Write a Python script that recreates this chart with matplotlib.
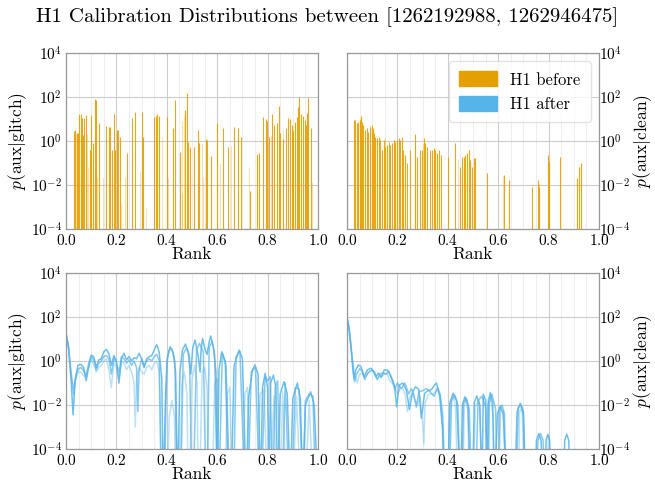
import numpy as np
import matplotlib
matplotlib.use("Agg")
import matplotlib.pyplot as plt
from matplotlib.patches import Patch
from matplotlib.ticker import FixedLocator, MultipleLocator, NullLocator

plt.rcParams['font.family'] = 'serif'
plt.rcParams['font.serif'] = ['cmr10']
plt.rcParams['mathtext.fontset'] = 'cm'
plt.rcParams['axes.formatter.use_mathtext'] = True

BEFORE = '#E69F00'
AFTER = '#56B4E9'

title = 'H1 Calibration Distributions between [1262192988, 1262946475]'

# top row: spike positions (rank) and log10 heights
glitch_before_x = [.032, .036, .042, .046, .053, .058, .062, .066, .071, .079, .095, .099, .108,
                   .114, .118, .130, .159, .171, .175, .181, .190, .194, .201, .208, .214, .243,
                   .263, .274, .302, .307, .351, .356, .360, .370, .399, .426, .433, .452, .474,
                   .479, .485, .492, .509, .522, .529, .554, .558, .574, .601, .624, .642, .667,
                   .684, .693, .730, .757, .767, .783, .792, .799, .806, .817, .827, .836, .844,
                   .849, .862, .872, .882, .888, .896, .902, .909, .915, .922, .926, .931, .942,
                   .948, .952, .958, .962, .971]
glitch_before_h = [.47, .50, .35, .35, 1.23, 1.23, 1.03, .27, 1.03, 1.18, -.41, 1.18, -.11,
                   1.89, 1.86, .80, .68, .62, .62, -.41, 1.23, -.41, .50, .50, .20, -.56,
                   1.03, 1.33, 1.33, .20, 1.11, 1.15, 1.23, 1.14, 1.11, .58, 1.86, -.48, 1.41,
                   2.17, -.03, -.26, -.26, .50, -.11, .08, .05, -.68, .80, .58, -.26, .65,
                   .58, .20, -2.26, -.61, -.53, 1.08, .98, .92, .20, 1.23, .73, .80, 1.59,
                   .35, .08, .58, 1.03, .98, .73, .50, .88, 1.11, 1.56, 2.02, 1.23, 1.14,
                   .95, .73, 1.26, 1.94, .58]
glitch_before_light_x = [.040, .060, .085, .089, .100, .124, .148, .218, .235, .294, .316, .380,
                         .403, .460, .462, .468, .538, .545, .611, .655, .728, .812, .860, .900,
                         .940, .955, .976]
glitch_before_light_h = [.3, .6, .3, -1.17, .5, -1.62, -1.70, -2.83, -1.62, -1.39, -3.06, .2,
                         -1.70, .9, -2.38, 1.18, -.11, -1.62, -1.02, -.23, -1.17, .23, .5, .4,
                         .3, 1.26, -1.85]

clean_before_x = [.001, .028, .032, .039, .045, .052, .056, .061, .065, .072, .078, .085, .092,
                  .098, .102, .108, .112, .118, .125, .131, .138, .145, .151, .158, .165, .171,
                  .178, .185, .191, .198, .205, .211, .218, .224, .231, .240, .251, .271, .278,
                  .291, .297, .304, .311, .317, .331, .337, .344, .351, .357, .364, .371, .400,
                  .430, .450, .457, .463, .470, .477, .483, .490, .497, .503, .507, .556, .623,
                  .643, .733, .756, .762, .798, .802, .845, .911, .922, .928]
clean_before_h = [3.38, .95, .95, .80, .88, .95, 1.14, .88, .73, .50, .58, .42, .65,
                  .73, .58, .35, .20, .12, .20, .05, -.41, .05, -.26, -.18, -.03, -.18,
                  -.11, .05, -.03, .05, .12, .05, .20, -.41, -.64, -1.02, -.41, .30, -.71,
                  -.41, -.41, .12, -.11, -.26, -.41, -.41, -.33, -.41, -.56, -.41, -.64, -.71,
                  -.11, -1.17, -.71, -.71, -.64, -.56, -.41, -.86, -1.17, -.79, -.79, -1.47, -1.55,
                  -1.77, -2.08, -1.77, -2.08, -.64, -.94, -.74, -1.70, -1.17, -1.02]
clean_before_light_x = [.050, .090, .150, .200, .270, .300, .440, .490, .620, .760, .800, .930]
clean_before_light_h = [1.0, .7, .2, -.3, .0, -.1, -.8, -1.0, -1.6, -1.9, -.9, -1.1]

# bottom row: smoothed curves, (rank, log10 density)
glitch_after_a = [(0, 1.26), (.01, .65), (.02, -.86), (.028, -2.45), (.036, -.9), (.047, -.2),
                  (.06, -.15), (.07, -.3), (.08, -.9), (.09, -.25), (.10, .27), (.11, .2),
                  (.12, -.3), (.13, .05), (.14, .1), (.15, .42), (.16, .53), (.17, .35),
                  (.18, -.2), (.19, .25), (.20, .0), (.21, -1.0), (.22, .1), (.23, .35),
                  (.24, .05), (.25, .2), (.26, .0), (.27, .15), (.28, .1), (.29, .35),
                  (.30, .1), (.31, -.3), (.32, .1), (.33, .2), (.34, .25), (.35, .5),
                  (.36, .75), (.37, .4), (.38, -.8), (.386, -6), (.395, -1.5), (.403, .2),
                  (.413, .65), (.425, .4), (.435, -.5), (.443, -6), (.452, -.5), (.462, .5),
                  (.474, .77), (.485, .4), (.495, -.6), (.503, .6), (.512, .95), (.525, .2),
                  (.532, -.5), (.536, .5), (.542, 1.03), (.552, .5), (.56, .3), (.567, .8),
                  (.574, 1.14), (.585, .6), (.595, -.5), (.60, -6), (.607, -.4), (.618, .42),
                  (.632, .0), (.645, -6), (.655, -6), (.667, -.2), (.687, .5), (.70, .1),
                  (.715, -6), (.725, -1.6), (.74, -.4), (.75, -.18), (.762, -.6), (.772, -6),
                  (.78, -1.2), (.79, -.56), (.80, -1.2), (.805, -6), (.812, -1.0), (.823, -.64),
                  (.833, -1.2), (.84, -6), (.85, -1.5), (.865, -.94), (.878, -1.5), (.89, -6),
                  (.90, -1.7), (.918, -1.0), (.93, -1.7), (.94, -6), (.95, -2.0), (.971, -1.4),
                  (.985, -2.0), (1.0, -6)]
glitch_after_b = [(0, 1.26), (.01, .6), (.02, -.5), (.03, -1.5), (.04, -.6), (.05, -.35),
                  (.06, -.3), (.07, -.45), (.08, -.7), (.09, -.1), (.10, .2), (.11, .05),
                  (.12, -.4), (.13, -.1), (.14, .0), (.15, .2), (.16, .25), (.17, .1),
                  (.18, -.6), (.19, .15), (.20, -.1), (.21, -.5), (.22, .2), (.23, .1),
                  (.24, -.1), (.25, .05), (.26, -.2), (.27, .0), (.28, -.3), (.285, -2.3),
                  (.29, -.4), (.30, .1), (.31, -.2), (.32, .0), (.33, .1), (.34, .0),
                  (.35, .2), (.36, .3), (.37, .0), (.378, -6), (.39, -6), (.40, .0),
                  (.41, .5), (.42, .55), (.432, .0), (.44, -6), (.455, -6), (.465, .3),
                  (.478, .6), (.49, .2), (.50, -6), (.505, -6), (.518, .5), (.53, .8),
                  (.545, .4), (.555, -6), (.56, -6), (.568, .6), (.58, .9), (.59, .3),
                  (.60, -6), (.607, -6), (.62, .35), (.635, -.2), (.65, -6), (.665, -6),
                  (.675, .2), (.69, .45), (.71, -6), (.722, -6), (.735, -.5), (.752, -.3),
                  (.768, -6), (.775, -6), (.79, -.7), (.80, -.9), (.81, -.7), (.82, -6),
                  (.83, -1.2), (.84, -.9), (.85, -6), (.858, -6), (.87, -1.0), (.885, -6),
                  (.895, -6), (.91, -1.2), (.925, -1.3), (.94, -6), (.95, -1.8), (.965, -1.5),
                  (.98, -1.6), (.99, -6), (1.0, -6)]
glitch_after_c = [(0, 1.26), (.01, .55), (.02, -.7), (.03, -1.2), (.04, -.8), (.05, -.5),
                  (.06, -.5), (.07, -.7), (.08, -.6), (.09, -.3), (.10, .1), (.11, -.2),
                  (.12, -.5), (.13, -.3), (.14, -.2), (.15, .0), (.16, .1), (.17, -.4),
                  (.18, -1.2), (.19, -.1), (.20, -.3), (.21, -.8), (.22, .0), (.23, -.1),
                  (.24, -.4), (.25, -.2), (.26, -.5), (.27, -1.0), (.275, -3.0), (.28, -.8),
                  (.29, -.3), (.30, -.5), (.31, -.6), (.32, -.3), (.33, -.2), (.34, -.4),
                  (.35, -.1), (.36, .0), (.37, -.5), (.38, -6), (.40, -6), (.41, -2.5),
                  (.42, -1.8), (.43, -2.5), (.435, -6), (.45, -6), (.46, -1.0), (.47, -.5),
                  (.48, -1.5), (.485, -6), (.49, -6), (.50, -.8), (.51, -.2), (.52, -1.0),
                  (.525, -6), (.53, -6), (.54, -.5), (.55, -.3), (.56, -1.2), (.565, -6),
                  (.58, -6), (.59, -1.0), (.60, -.8), (.61, -6), (.63, -6), (.64, -1.5),
                  (.65, -1.2), (.66, -6), (.70, -6), (.71, -1.5), (.72, -1.2), (.73, -6),
                  (.76, -6), (.77, -1.5), (.785, -1.3), (.80, -6), (.81, -6), (.825, -1.6),
                  (.835, -6), (.85, -6), (.86, -1.4), (.875, -6), (.90, -6), (.915, -1.6),
                  (.93, -6), (.95, -6), (.965, -1.8), (.98, -6), (1.0, -6)]

clean_after_a = [(0, 1.97), (.008, 1.56), (.016, .65), (.024, -.33), (.028, -.79), (.035, -.4),
                 (.045, -.18), (.055, -.25), (.068, -.71), (.081, -.4), (.095, -.33),
                 (.105, -.45), (.115, -.7), (.125, -.55), (.135, -.75), (.148, -.4),
                 (.161, -.42), (.175, -.7), (.188, -1.09), (.197, -2.08), (.207, -1.1),
                 (.221, -1.0), (.235, -1.3), (.248, -2.2), (.26, -1.4), (.272, -1.17),
                 (.285, -1.3), (.295, -2.6), (.308, -1.47), (.321, -1.35), (.335, -1.3),
                 (.348, -1.09), (.355, -1.0), (.368, -1.6), (.379, -3.1), (.386, -6),
                 (.399, -6), (.408, -1.9), (.421, -1.47), (.435, -1.8), (.451, -6),
                 (.458, -2.0), (.468, -1.62), (.48, -2.0), (.49, -6), (.498, -6),
                 (.505, -1.9), (.515, -1.59), (.527, -2.0), (.535, -6), (.541, -1.5),
                 (.55, -1.8), (.558, -6), (.56, -2.0), (.568, -1.44), (.578, -1.9),
                 (.585, -6), (.597, -2.4), (.608, -2.05), (.62, -2.4), (.635, -6),
                 (.665, -6), (.675, -2.3), (.688, -1.92), (.70, -2.3), (.71, -6),
                 (.745, -6), (.752, -3.6), (.761, -3.3), (.77, -3.6), (.78, -6),
                 (.785, -6), (.79, -3.6), (.797, -3.33), (.804, -3.6), (.81, -6),
                 (.857, -6), (.864, -3.6), (.872, -3.33), (.88, -3.6), (.887, -6), (1.0, -6)]
clean_after_b = [(0, 1.97), (.008, 1.5), (.016, .6), (.024, -.5), (.03, -.95), (.038, -.6),
                 (.05, -.35), (.06, -.45), (.07, -.85), (.085, -.5), (.10, -.4), (.11, -.6),
                 (.12, -.85), (.13, -.6), (.14, -.55), (.155, -.6), (.165, -.45), (.18, -.9),
                 (.19, -1.3), (.20, -1.0), (.215, -1.25), (.23, -1.0), (.245, -1.5),
                 (.255, -1.25), (.265, -1.5), (.275, -2.1), (.285, -1.4), (.30, -1.35),
                 (.315, -1.25), (.33, -1.4), (.345, -1.6), (.36, -1.25), (.37, -1.5),
                 (.38, -2.5), (.39, -6), (.405, -6), (.415, -1.8), (.428, -1.55), (.44, -2.0),
                 (.448, -6), (.455, -6), (.462, -1.9), (.474, -1.7), (.485, -2.2), (.495, -6),
                 (.51, -6), (.52, -1.8), (.535, -1.6), (.55, -2.1), (.555, -6), (.56, -6),
                 (.565, -1.9), (.575, -1.5), (.59, -2.2), (.595, -6), (.60, -6), (.606, -2.2),
                 (.615, -2.0), (.625, -2.4), (.63, -6), (.67, -6), (.68, -2.1), (.69, -2.0),
                 (.70, -2.5), (.705, -6), (.75, -6), (.758, -3.6), (.768, -3.3), (.778, -3.6),
                 (.785, -6), (1.0, -6)]
clean_after_c = [(0, 1.97), (.01, 1.2), (.02, .2), (.03, -.6), (.04, -1.0), (.05, -.6),
                 (.06, -.55), (.07, -.75), (.08, -.6), (.09, -.5), (.10, -.45), (.11, -.5),
                 (.12, -.8), (.13, -.65), (.14, -.7), (.15, -.55), (.16, -.6), (.17, -.9),
                 (.18, -1.0), (.19, -1.2), (.20, -1.5), (.21, -1.3), (.22, -1.2), (.23, -1.5),
                 (.24, -2.3), (.25, -1.6), (.26, -1.5), (.27, -1.8), (.28, -2.0), (.29, -1.6),
                 (.30, -2.8), (.305, -3.8), (.31, -1.9), (.325, -1.5), (.34, -1.5), (.35, -1.4),
                 (.36, -1.2), (.37, -1.7), (.38, -3.0), (.385, -6), (.40, -6), (.41, -2.0),
                 (.42, -1.5), (.43, -2.0), (.44, -6), (.46, -6), (.465, -2.1), (.47, -1.7),
                 (.48, -2.3), (.485, -6), (.50, -6), (.51, -2.0), (.525, -1.8), (.54, -6),
                 (.55, -6), (.56, -1.7), (.57, -1.6), (.58, -2.5), (.585, -6), (.60, -6),
                 (.61, -2.2), (.62, -2.3), (.63, -6), (.68, -6), (.685, -2.3), (.695, -2.1),
                 (.705, -6), (.79, -6), (.80, -3.4), (.81, -6), (1.0, -6)]

fig = plt.figure(figsize=(6.55, 4.84), dpi=100)
L, W, G = 0.1008, 0.3847, 0.0443
B2, H, VG = 0.0723, 0.3636, 0.0909
axes = [[fig.add_axes([L, B2 + H + VG, W, H]), fig.add_axes([L + W + G, B2 + H + VG, W, H])],
        [fig.add_axes([L, B2, W, H]), fig.add_axes([L + W + G, B2, W, H])]]


def style(ax, ylabel, right):
    ax.set_yscale('log')
    ax.set_xlim(0, 1)
    ax.set_ylim(1e-4, 1e4)
    ax.yaxis.set_major_locator(FixedLocator([1e-4, 1e-2, 1, 1e2, 1e4]))
    ax.yaxis.set_minor_locator(NullLocator())
    ax.xaxis.set_major_locator(MultipleLocator(0.2))
    ax.xaxis.set_minor_locator(MultipleLocator(0.05))
    ax.grid(True, which='major', color='#cccccc', lw=0.8)
    ax.grid(True, which='minor', axis='x', color='#eeeeee', lw=0.8)
    ax.set_axisbelow(True)
    ax.tick_params(which='both', length=0, labelsize=11, pad=3)
    for s in ax.spines.values():
        s.set_color('#999999')
        s.set_linewidth(0.9)
    ax.set_xlabel('Rank', fontsize=12.5, labelpad=-1)
    if right:
        ax.yaxis.tick_right()
        ax.yaxis.set_label_position('right')
        ax.tick_params(axis='y', which='both', length=0, pad=0)
        ax.set_ylabel(ylabel, fontsize=12.5, labelpad=1)
    else:
        ax.set_ylabel(ylabel, fontsize=12.5, labelpad=1)


ax = axes[0][0]
ax.vlines(glitch_before_light_x, 1e-6, 10 ** np.array(glitch_before_light_h), color=BEFORE, lw=0.8, alpha=0.3)
ax.vlines(glitch_before_x, 1e-6, 10 ** np.array(glitch_before_h), color=BEFORE, lw=0.8, alpha=0.9)
style(ax, r'$p(\mathrm{aux}|\mathrm{glitch})$', False)

ax = axes[0][1]
ax.vlines(clean_before_light_x, 1e-6, 10 ** np.array(clean_before_light_h), color=BEFORE, lw=0.8, alpha=0.3)
ax.vlines(clean_before_x, 1e-6, 10 ** np.array(clean_before_h), color=BEFORE, lw=0.8, alpha=0.9)
style(ax, r'$p(\mathrm{aux}|\mathrm{clean})$', True)
ax.legend(handles=[Patch(color=BEFORE, label='H1 before'), Patch(color=AFTER, label='H1 after')],
          loc='upper right', fontsize=12, handlelength=2.3, handleheight=1.0,
          borderpad=0.6, labelspacing=0.5, framealpha=0.8, edgecolor='#dddddd')

for ax, curves, ylabel, right in [(axes[1][0], [glitch_after_a, glitch_after_b, glitch_after_c],
                                   r'$p(\mathrm{aux}|\mathrm{glitch})$', False),
                                  (axes[1][1], [clean_after_a, clean_after_b, clean_after_c],
                                   r'$p(\mathrm{aux}|\mathrm{clean})$', True)]:
    for c, a in zip(curves, [0.85, 0.7, 0.4]):
        xs, ls = zip(*c)
        ax.plot(xs, 10 ** np.array(ls), color=AFTER, lw=1.1, alpha=a)
    style(ax, ylabel, right)

fig.suptitle(title, fontsize=15, y=0.985)
fig.savefig('out.png', dpi=100)
